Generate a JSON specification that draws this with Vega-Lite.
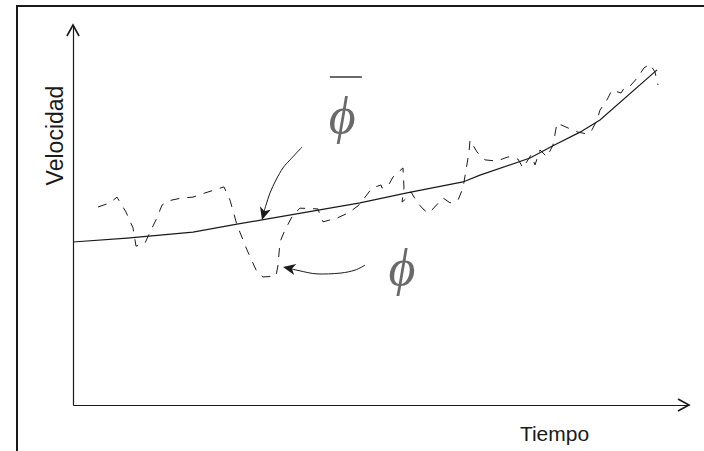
{
  "$schema": "https://vega.github.io/schema/vega-lite/v6.json",
  "width": 697,
  "height": 455,
  "autosize": {"type": "none"},
  "padding": {"left": 17, "top": 6, "right": 0, "bottom": 0},
  "background": "white",
  "config": {"view": {"stroke": "#1a1a1a", "strokeWidth": 2}},
  "datasets": {
    "curves": [
      {"s": "media", "i": 0, "t": 0, "v": 42.9},
      {"s": "media", "i": 1, "t": 8.77, "v": 43.9},
      {"s": "media", "i": 2, "t": 19.48, "v": 45.5},
      {"s": "media", "i": 3, "t": 26.62, "v": 47.6},
      {"s": "media", "i": 4, "t": 30.68, "v": 48.7},
      {"s": "media", "i": 5, "t": 46.59, "v": 53.2},
      {"s": "media", "i": 6, "t": 54.22, "v": 55.8},
      {"s": "media", "i": 7, "t": 63.31, "v": 58.7},
      {"s": "media", "i": 8, "t": 66.07, "v": 60.5},
      {"s": "media", "i": 9, "t": 74.19, "v": 65.0},
      {"s": "media", "i": 10, "t": 77.92, "v": 68.2},
      {"s": "media", "i": 11, "t": 82.31, "v": 71.8},
      {"s": "media", "i": 12, "t": 85.55, "v": 75.0},
      {"s": "media", "i": 13, "t": 94.81, "v": 88.2},
      {"s": "inst", "i": 1, "t": 4.06, "v": 52.1},
      {"s": "inst", "i": 2, "t": 6.01, "v": 53.2},
      {"s": "inst", "i": 3, "t": 7.14, "v": 54.7},
      {"s": "inst", "i": 4, "t": 8.6, "v": 50.8},
      {"s": "inst", "i": 5, "t": 9.74, "v": 46.6},
      {"s": "inst", "i": 6, "t": 10.23, "v": 41.8},
      {"s": "inst", "i": 7, "t": 11.69, "v": 42.6},
      {"s": "inst", "i": 8, "t": 12.5, "v": 45.5},
      {"s": "inst", "i": 9, "t": 13.47, "v": 48.7},
      {"s": "inst", "i": 10, "t": 14.45, "v": 52.6},
      {"s": "inst", "i": 11, "t": 15.42, "v": 53.7},
      {"s": "inst", "i": 12, "t": 17.69, "v": 54.5},
      {"s": "inst", "i": 13, "t": 19.48, "v": 54.7},
      {"s": "inst", "i": 14, "t": 21.43, "v": 55.8},
      {"s": "inst", "i": 15, "t": 23.38, "v": 56.8},
      {"s": "inst", "i": 16, "t": 24.51, "v": 57.4},
      {"s": "inst", "i": 17, "t": 25.49, "v": 53.9},
      {"s": "inst", "i": 18, "t": 26.62, "v": 47.4},
      {"s": "inst", "i": 19, "t": 28.25, "v": 40.8},
      {"s": "inst", "i": 20, "t": 29.87, "v": 35.0},
      {"s": "inst", "i": 21, "t": 30.84, "v": 33.7},
      {"s": "inst", "i": 22, "t": 32.95, "v": 33.9},
      {"s": "inst", "i": 23, "t": 33.28, "v": 36.8},
      {"s": "inst", "i": 24, "t": 33.6, "v": 42.9},
      {"s": "inst", "i": 25, "t": 34.42, "v": 46.1},
      {"s": "inst", "i": 26, "t": 35.71, "v": 50.0},
      {"s": "inst", "i": 27, "t": 36.85, "v": 51.8},
      {"s": "inst", "i": 28, "t": 39.77, "v": 51.6},
      {"s": "inst", "i": 29, "t": 40.1, "v": 50.0},
      {"s": "inst", "i": 30, "t": 40.58, "v": 48.2},
      {"s": "inst", "i": 31, "t": 42.86, "v": 49.2},
      {"s": "inst", "i": 32, "t": 44.64, "v": 50.5},
      {"s": "inst", "i": 33, "t": 46.27, "v": 52.4},
      {"s": "inst", "i": 34, "t": 47.56, "v": 55.0},
      {"s": "inst", "i": 35, "t": 48.54, "v": 57.1},
      {"s": "inst", "i": 36, "t": 50.0, "v": 57.9},
      {"s": "inst", "i": 37, "t": 50.16, "v": 57.1},
      {"s": "inst", "i": 38, "t": 51.14, "v": 57.6},
      {"s": "inst", "i": 39, "t": 51.95, "v": 60.0},
      {"s": "inst", "i": 40, "t": 53.57, "v": 62.4},
      {"s": "inst", "i": 41, "t": 53.73, "v": 57.1},
      {"s": "inst", "i": 42, "t": 53.41, "v": 53.4},
      {"s": "inst", "i": 43, "t": 54.22, "v": 54.5},
      {"s": "inst", "i": 44, "t": 54.87, "v": 56.1},
      {"s": "inst", "i": 45, "t": 55.84, "v": 53.4},
      {"s": "inst", "i": 46, "t": 56.82, "v": 51.6},
      {"s": "inst", "i": 47, "t": 57.63, "v": 50.5},
      {"s": "inst", "i": 48, "t": 58.44, "v": 51.6},
      {"s": "inst", "i": 49, "t": 60.06, "v": 54.5},
      {"s": "inst", "i": 50, "t": 61.2, "v": 53.2},
      {"s": "inst", "i": 51, "t": 62.5, "v": 53.9},
      {"s": "inst", "i": 52, "t": 63.31, "v": 57.1},
      {"s": "inst", "i": 53, "t": 63.8, "v": 61.8},
      {"s": "inst", "i": 54, "t": 64.29, "v": 66.6},
      {"s": "inst", "i": 55, "t": 64.45, "v": 69.7},
      {"s": "inst", "i": 56, "t": 65.58, "v": 66.6},
      {"s": "inst", "i": 57, "t": 66.88, "v": 64.5},
      {"s": "inst", "i": 58, "t": 68.83, "v": 64.2},
      {"s": "inst", "i": 59, "t": 70.62, "v": 65.3},
      {"s": "inst", "i": 60, "t": 72.24, "v": 64.7},
      {"s": "inst", "i": 61, "t": 73.05, "v": 62.4},
      {"s": "inst", "i": 62, "t": 74.35, "v": 65.8},
      {"s": "inst", "i": 63, "t": 75.0, "v": 63.2},
      {"s": "inst", "i": 64, "t": 75.81, "v": 67.1},
      {"s": "inst", "i": 65, "t": 76.95, "v": 65.3},
      {"s": "inst", "i": 66, "t": 77.92, "v": 68.4},
      {"s": "inst", "i": 67, "t": 78.57, "v": 74.2},
      {"s": "inst", "i": 68, "t": 80.36, "v": 72.9},
      {"s": "inst", "i": 69, "t": 81.98, "v": 71.8},
      {"s": "inst", "i": 70, "t": 83.6, "v": 71.3},
      {"s": "inst", "i": 71, "t": 84.25, "v": 72.4},
      {"s": "inst", "i": 72, "t": 85.06, "v": 75.0},
      {"s": "inst", "i": 73, "t": 85.55, "v": 77.6},
      {"s": "inst", "i": 74, "t": 86.69, "v": 80.3},
      {"s": "inst", "i": 75, "t": 87.5, "v": 82.9},
      {"s": "inst", "i": 76, "t": 88.96, "v": 82.1},
      {"s": "inst", "i": 77, "t": 89.61, "v": 83.7},
      {"s": "inst", "i": 78, "t": 90.42, "v": 83.9},
      {"s": "inst", "i": 79, "t": 91.72, "v": 86.3},
      {"s": "inst", "i": 80, "t": 92.69, "v": 88.7},
      {"s": "inst", "i": 81, "t": 93.67, "v": 89.7},
      {"s": "inst", "i": 82, "t": 94.48, "v": 87.6},
      {"s": "inst", "i": 83, "t": 94.97, "v": 84.2},
      {"s": "flecha1", "i": 1, "t": 37.18, "v": 67.9},
      {"s": "flecha1", "i": 2, "t": 35.23, "v": 64.5},
      {"s": "flecha1", "i": 3, "t": 34.09, "v": 62.4},
      {"s": "flecha1", "i": 4, "t": 32.95, "v": 59.2},
      {"s": "flecha1", "i": 5, "t": 31.98, "v": 55.8},
      {"s": "flecha1", "i": 6, "t": 31.33, "v": 52.6},
      {"s": "flecha1", "i": 7, "t": 30.84, "v": 50.0},
      {"s": "flecha2", "i": 1, "t": 47.4, "v": 36.8},
      {"s": "flecha2", "i": 2, "t": 45.78, "v": 35.5},
      {"s": "flecha2", "i": 3, "t": 43.34, "v": 34.7},
      {"s": "flecha2", "i": 4, "t": 39.61, "v": 34.5},
      {"s": "flecha2", "i": 5, "t": 36.85, "v": 35.3},
      {"s": "flecha2", "i": 6, "t": 34.74, "v": 36.1},
      {"s": "punta1", "i": 0, "t": 30.68, "v": 48.7},
      {"s": "punta2", "i": 0, "t": 34.09, "v": 36.3},
      {"s": "ejeY", "i": 0, "t": 0, "v": 100},
      {"s": "ejeX", "i": 0, "t": 100, "v": 0},
      {"s": "phi", "i": 0, "t": 43.7, "v": 71.6},
      {"s": "phi", "i": 1, "t": 53.4, "v": 31.6},
      {"s": "barra", "i": 0, "t": 41.7, "t2": 46.9, "v": 86.3}
    ]
  },
  "data": {"name": "curves"},
  "encoding": {
    "x": {
      "field": "t",
      "type": "quantitative",
      "scale": {"domain": [0, 100], "range": [56, 672], "nice": false, "zero": false},
      "axis": {
        "title": "Tiempo",
        "offset": -56,
        "ticks": false,
        "labels": false,
        "grid": false,
        "domainColor": "#1a1a1a",
        "domainWidth": 1.2,
        "titleFont": "Liberation Sans",
        "titleFontSize": 21,
        "titleFontWeight": "normal",
        "titleColor": "#1a1a1a",
        "titleX": 537,
        "titleY": 35,
        "titleAlign": "center",
        "titleBaseline": "alphabetic"
      }
    },
    "y": {
      "field": "v",
      "type": "quantitative",
      "scale": {"domain": [0, 100], "range": [399, 19], "nice": false, "zero": false},
      "axis": {
        "title": "Velocidad",
        "offset": -56,
        "ticks": false,
        "labels": false,
        "grid": false,
        "domainColor": "#1a1a1a",
        "domainWidth": 1.2,
        "titleFont": "Liberation Sans",
        "titleFontSize": 23,
        "titleFontWeight": "normal",
        "titleColor": "#1a1a1a",
        "titleX": -11,
        "titleY": 129,
        "titleAngle": -90,
        "titleAlign": "center",
        "titleBaseline": "alphabetic"
      }
    }
  },
  "layer": [
    {
      "transform": [{"filter": "datum.s === 'media'"}],
      "mark": {"type": "line", "color": "#1a1a1a", "strokeWidth": 1.2},
      "encoding": {"order": {"field": "i", "type": "quantitative"}}
    },
    {
      "transform": [{"filter": "datum.s === 'inst'"}],
      "mark": {"type": "line", "color": "#1a1a1a", "strokeWidth": 1, "strokeDash": [9, 8]},
      "encoding": {"order": {"field": "i", "type": "quantitative"}}
    },
    {
      "transform": [{"filter": "datum.s === 'flecha1'"}],
      "mark": {"type": "line", "color": "#1a1a1a", "strokeWidth": 1, "interpolate": "cardinal"},
      "encoding": {"order": {"field": "i", "type": "quantitative"}}
    },
    {
      "transform": [{"filter": "datum.s === 'flecha2'"}],
      "mark": {"type": "line", "color": "#1a1a1a", "strokeWidth": 1, "interpolate": "cardinal"},
      "encoding": {"order": {"field": "i", "type": "quantitative"}}
    },
    {
      "transform": [{"filter": "datum.s === 'punta1'"}],
      "mark": {"type": "point", "shape": "M0,0L-0.45,1L0,0.72L0.45,1Z", "size": 625, "filled": true, "color": "#1a1a1a", "opacity": 1, "angle": 196}
    },
    {
      "transform": [{"filter": "datum.s === 'punta2'"}],
      "mark": {"type": "point", "shape": "M0,0L-0.45,1L0,0.72L0.45,1Z", "size": 625, "filled": true, "color": "#1a1a1a", "opacity": 1, "angle": 281}
    },
    {
      "transform": [{"filter": "datum.s === 'ejeY'"}],
      "mark": {"type": "point", "shape": "M-0.55,1L0,0L0.55,1", "size": 484, "filled": false, "fill": null, "stroke": "#1a1a1a", "strokeWidth": 1.6, "opacity": 1, "angle": 0}
    },
    {
      "transform": [{"filter": "datum.s === 'ejeX'"}],
      "mark": {"type": "point", "shape": "M-0.55,1L0,0L0.55,1", "size": 484, "filled": false, "fill": null, "stroke": "#1a1a1a", "strokeWidth": 1.6, "opacity": 1, "angle": 90}
    },
    {
      "transform": [{"filter": "datum.s === 'phi'"}],
      "mark": {"type": "text", "text": "ϕ", "font": "Liberation Serif", "fontStyle": "italic", "fontSize": 52, "color": "#6a6a6a", "align": "center", "baseline": "alphabetic"}
    },
    {
      "transform": [{"filter": "datum.s === 'barra'"}],
      "mark": {"type": "rule", "color": "#6a6a6a", "strokeWidth": 2},
      "encoding": {"x2": {"field": "t2"}}
    }
  ]
}
